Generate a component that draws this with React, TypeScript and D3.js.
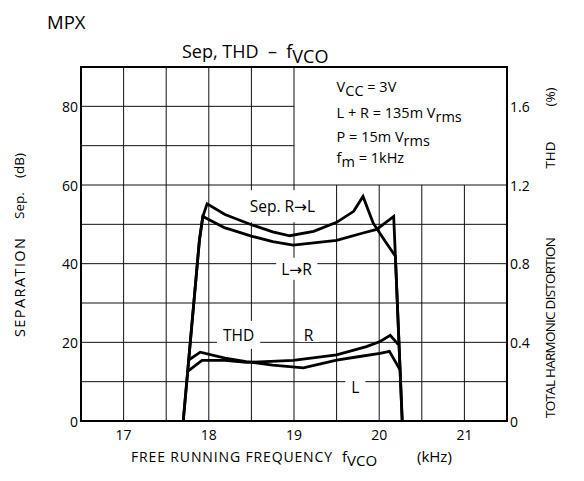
import { useEffect, useRef } from 'react';
import * as d3 from 'd3';

const freqTicks = [17, 18, 19, 20, 21];
const sepTicks = [0, 20, 40, 60, 80];
const thdTicks = [0, 0.4, 0.8, 1.2, 1.6];
const gridFreqs = [17, 17.5, 18, 18.5, 19, 19.5, 20, 20.5, 21];
const gridSeps = [10, 20, 30, 40, 50, 60, 70, 80];

// separation, [kHz, dB]
const sepRtoL: [number, number][] = [
  [17.7, 0], [17.89, 46], [17.93, 52], [17.98, 55.2], [18.19, 52.5], [18.25, 52.0],
  [18.5, 49.9], [18.75, 48.1], [18.95, 47.1], [19.23, 48.2], [19.5, 50.5], [19.7, 53.3],
  [19.81, 57.1], [19.93, 50.3], [20.07, 45.7], [20.19, 41.9], [20.27, 0],
];
const sepLtoR: [number, number][] = [
  [17.7, 0], [17.89, 46], [17.93, 52], [18.19, 49.1], [18.25, 48.7], [18.5, 47.0],
  [18.75, 45.6], [18.99, 44.7], [19.5, 45.9], [19.81, 47.8], [19.97, 48.7], [20.17, 52.0],
  [20.19, 41.9], [20.27, 0],
];

// THD, [kHz, %]
const thdR: [number, number][] = [
  [17.752, 0.252], [17.92, 0.308], [18.19, 0.308], [18.44, 0.298], [18.99, 0.308],
  [19.5, 0.336], [19.85, 0.378], [20.01, 0.404], [20.13, 0.436], [20.225, 0.388],
];
const thdL: [number, number][] = [
  [17.764, 0.31], [17.9, 0.35], [18.19, 0.32], [18.44, 0.302], [18.75, 0.284],
  [19.11, 0.27], [19.5, 0.31], [19.77, 0.328], [20.01, 0.344], [20.12, 0.354], [20.245, 0.26],
];

const curveLabels = [
  { text: 'Sep. R→L', f: 18.865, db: 54.6, padX: 7, padY: 16 },
  { text: 'L→R', f: 19.03, db: 38.7, padX: 5, padY: 11 },
  { text: 'THD', f: 18.35, db: 21.9, padX: 6, padY: 14 },
  { text: 'R', f: 19.17, db: 21.9, padX: 6, padY: 7 },
  { text: 'L', f: 19.72, db: 8.7, padX: 6, padY: 7 },
];

// [text, subscript]
const conditions: [string, boolean][][] = [
  [['V', false], ['CC', true], [' = 3V', false]],
  [['L + R = 135m V', false], ['rms', true]],
  [['P = 15m V', false], ['rms', true]],
  [['f', false], ['m', true], [' = 1kHz', false]],
];

const FONT = '"Open Sans", "DejaVu Sans", sans-serif';

export default function App() {
  const svgRef = useRef<SVGSVGElement>(null);

  useEffect(() => {
    if (!svgRef.current) return;
    const svg = d3.select(svgRef.current);
    svg.selectAll('*').remove();

    const left = 81, right = 507, top = 67, bottom = 421;
    const x = d3.scaleLinear().domain([16.5, 21.5]).range([left, right]);
    const y = d3.scaleLinear().domain([0, 90]).range([bottom, top]);
    const yR = d3.scaleLinear().domain([0, 1.8]).range([bottom, top]);

    const g = svg.append('g').style('font-family', FONT).attr('fill', '#000');

    // grid
    const grid = g.append('g').attr('stroke', '#111').attr('stroke-width', 1);
    gridFreqs.forEach(f => {
      grid.append('line')
        .attr('x1', x(f)).attr('x2', x(f))
        .attr('y1', f > 19 ? y(60) : y(90)).attr('y2', y(0));
    });
    gridSeps.forEach(s => {
      grid.append('line')
        .attr('x1', x(16.5)).attr('x2', s > 60 ? x(19) : x(21.5))
        .attr('y1', y(s)).attr('y2', y(s));
    });

    // label masks + labels
    const labelLayer = g.append('g');
    const curveLayer = g.append('g');
    const textLayer = g.append('g');
    curveLabels.forEach(l => {
      const t = textLayer.append('text')
        .attr('x', x(l.f)).attr('y', y(l.db))
        .attr('text-anchor', 'middle').attr('dominant-baseline', 'central')
        .style('font-size', '15.5px')
        .text(l.text);
      const bb = (t.node() as SVGTextElement).getBBox();
      labelLayer.append('rect')
        .attr('x', bb.x - l.padX).attr('width', bb.width + 2 * l.padX)
        .attr('y', y(l.db) - l.padY).attr('height', 2 * l.padY)
        .attr('fill', '#fff');
    });

    // curves
    const lineSep = d3.line<[number, number]>().x(d => x(d[0])).y(d => y(d[1]));
    const lineThd = d3.line<[number, number]>().x(d => x(d[0])).y(d => yR(d[1]));
    [sepRtoL, sepLtoR].forEach(s => {
      curveLayer.append('path').datum(s).attr('d', lineSep)
        .attr('fill', 'none').attr('stroke', '#000').attr('stroke-width', 2.8)
        .attr('stroke-linejoin', 'miter');
    });
    [thdR, thdL].forEach(s => {
      curveLayer.append('path').datum(s).attr('d', lineThd)
        .attr('fill', 'none').attr('stroke', '#000').attr('stroke-width', 2.8)
        .attr('stroke-linejoin', 'miter');
    });

    // frame
    g.append('rect')
      .attr('x', left).attr('y', top).attr('width', right - left).attr('height', bottom - top)
      .attr('fill', 'none').attr('stroke', '#000').attr('stroke-width', 2);

    // ticks
    const tickSize = '14px';
    freqTicks.forEach(f => {
      g.append('text').attr('x', x(f)).attr('y', 440)
        .attr('text-anchor', 'middle').style('font-size', tickSize).text(String(f));
    });
    sepTicks.forEach(s => {
      g.append('text').attr('x', left - 3).attr('y', y(s))
        .attr('text-anchor', 'end').attr('dominant-baseline', 'central')
        .style('font-size', tickSize).text(String(s));
    });
    thdTicks.forEach(t => {
      g.append('text').attr('x', right + 3).attr('y', yR(t))
        .attr('text-anchor', 'start').attr('dominant-baseline', 'central')
        .style('font-size', tickSize).text(t === 0 ? '0' : t.toFixed(1));
    });

    // conditions box
    const condBase = [92, 117.5, 141.5, 163];
    conditions.forEach((row, i) => {
      const t = g.append('text').attr('x', x(19.5)).attr('y', condBase[i])
        .style('font-size', '14.5px').style('white-space', 'pre');
      let shifted = false;
      row.forEach(([txt, sub]) => {
        const dy = sub === shifted ? 0 : sub ? 4 : -4;
        shifted = sub;
        t.append('tspan').attr('dy', dy).text(txt);
      });
    });

    // titles
    g.append('text').attr('x', 47).attr('y', 29).style('font-size', '18.5px').text('MPX');
    const title = g.append('text').attr('x', 182).attr('y', 58)
      .style('font-size', '18px').style('white-space', 'pre');
    title.append('tspan').text('Sep, THD  –  f');
    title.append('tspan').attr('dy', 5).text('VCO');

    // axis titles
    g.append('text').attr('x', 131).attr('y', 462).style('font-size', '14px')
      .attr('textLength', 201).attr('lengthAdjust', 'spacing').text('FREE RUNNING FREQUENCY');
    g.append('text').attr('x', 417).attr('y', 462).style('font-size', '15px').text('(kHz)');
    const fv = g.append('text').attr('x', 342).attr('y', 462).style('font-size', '15px');
    fv.append('tspan').text('f');
    fv.append('tspan').attr('dy', 4).text('VCO');

    const vert = (txt: string, cx: number, cy: number, size: string, len?: number) => {
      const t = g.append('text').attr('transform', `translate(${cx},${cy}) rotate(-90)`)
        .attr('text-anchor', 'middle').attr('dominant-baseline', 'central')
        .style('font-size', size).text(txt);
      if (len) t.attr('textLength', len).attr('lengthAdjust', 'spacing');
    };
    vert('SEPARATION', 19, 287.5, '14.5px', 99);
    vert('Sep.', 19, 205.5, '13.5px');
    vert('(dB)', 19, 165.5, '13.5px');
    vert('TOTAL HARMONIC DISTORTION', 550, 327.5, '13.5px', 181);
    vert('THD', 550, 155, '13.5px');
    vert('(%)', 550, 97, '13.5px');
  }, []);

  return (
    <svg
      ref={svgRef}
      width={584}
      height={481}
      style={{ position: 'absolute', left: 0, top: 0, background: '#fff' }}
    />
  );
}
